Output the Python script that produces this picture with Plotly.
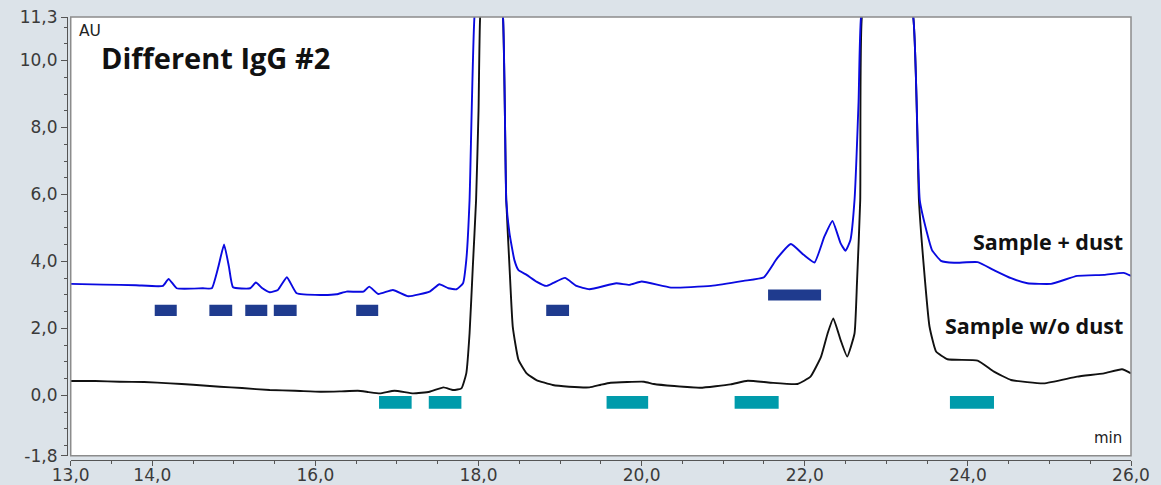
import plotly.graph_objects as go

# ---- data ----
t_nodust = [13.00, 13.30, 13.60, 13.90, 14.22, 14.50, 14.83, 15.10, 15.44, 15.75, 16.06, 16.30,
            16.52, 16.65, 16.79, 16.97, 17.20, 17.40, 17.57, 17.69, 17.79, 17.85, 17.89, 17.93,
            17.97, 18.00, 18.02, 18.16, 18.30, 18.34, 18.38, 18.42, 18.49, 18.59, 18.71, 18.91,
            19.11, 19.36, 19.50, 19.62, 20.03, 20.15, 20.40, 20.72, 21.09, 21.30, 21.58, 21.91,
            22.07, 22.20, 22.28, 22.35, 22.44, 22.52, 22.61, 22.64, 22.68, 22.70, 22.98, 23.33,
            23.40, 23.46, 23.53, 23.61, 23.75, 24.12, 24.32, 24.53, 24.93, 25.34, 25.67, 25.89,
            26.00]
au_nodust = [0.43, 0.43, 0.41, 0.40, 0.36, 0.32, 0.26, 0.22, 0.16, 0.14, 0.11, 0.12,
             0.14, 0.10, 0.06, 0.14, 0.06, 0.11, 0.24, 0.16, 0.21, 0.66, 1.85, 3.84,
             5.83, 8.50, 11.30, 15.00, 11.30, 5.83, 3.84, 2.05, 1.06, 0.66, 0.46, 0.31,
             0.26, 0.24, 0.32, 0.38, 0.41, 0.34, 0.28, 0.23, 0.33, 0.44, 0.38, 0.34,
             0.56, 1.16, 1.85, 2.30, 1.65, 1.16, 1.85, 3.35, 5.83, 11.30, 15.00, 11.30,
             5.83, 3.84, 2.05, 1.31, 1.08, 1.04, 0.71, 0.46, 0.36, 0.56, 0.66, 0.78,
             0.66]

t_dust = [13.00, 13.40, 13.80, 14.13, 14.20, 14.30, 14.62, 14.73, 14.81, 14.88, 14.94, 14.99,
          15.20, 15.27, 15.35, 15.44, 15.54, 15.65, 15.77, 16.06, 16.26, 16.38, 16.59, 16.66,
          16.77, 16.95, 17.14, 17.40, 17.52, 17.63, 17.73, 17.81, 17.85, 17.89, 17.95, 18.12,
          18.30, 18.34, 18.38, 18.44, 18.49, 18.59, 18.71, 18.83, 18.91, 19.06, 19.20, 19.36,
          19.69, 19.85, 20.00, 20.36, 20.85, 21.25, 21.50, 21.66, 21.83, 21.99, 22.12, 22.24,
          22.34, 22.44, 22.50, 22.56, 22.61, 22.66, 22.69, 22.98, 23.33, 23.41, 23.50, 23.56,
          23.67, 23.83, 24.12, 24.32, 24.53, 24.73, 25.02, 25.34, 25.67, 25.91, 26.00]
au_dust = [3.33, 3.31, 3.29, 3.27, 3.48, 3.20, 3.20, 3.20, 3.84, 4.51, 3.84, 3.23,
           3.20, 3.37, 3.20, 3.08, 3.15, 3.53, 3.05, 3.00, 3.02, 3.10, 3.10, 3.25,
           3.03, 3.15, 2.96, 3.10, 3.32, 3.20, 3.17, 3.35, 4.04, 5.83, 11.30, 15.00,
           11.30, 5.83, 4.84, 4.04, 3.74, 3.60, 3.40, 3.27, 3.35, 3.51, 3.27, 3.17,
           3.35, 3.30, 3.40, 3.22, 3.27, 3.42, 3.53, 4.09, 4.52, 4.19, 3.97, 4.74,
           5.21, 4.54, 4.32, 4.64, 5.83, 8.80, 11.30, 15.00, 11.30, 5.83, 4.84, 4.34,
           4.02, 3.96, 3.98, 3.74, 3.50, 3.35, 3.33, 3.57, 3.60, 3.66, 3.57]

# fraction bars (start, end, level)
dust_bar_start = [14.03, 14.70, 15.14, 15.49, 16.50, 18.83, 21.55]
dust_bar_end = [14.30, 14.98, 15.41, 15.77, 16.77, 19.11, 22.20]
dust_bar_level = [2.54, 2.54, 2.54, 2.54, 2.54, 2.54, 3.00]

nodust_bar_start = [16.78, 17.39, 19.57, 21.14, 23.78]
nodust_bar_end = [17.18, 17.79, 20.08, 21.68, 24.32]
nodust_bar_level = [-0.21, -0.21, -0.21, -0.21, -0.21]

x_tickvals = [13, 14, 16, 18, 20, 22, 24, 26]
x_ticktext = ["13,0", "14,0", "16,0", "18,0", "20,0", "22,0", "24,0", "26,0"]
y_tickvals = [-1.8, 0, 2, 4, 6, 8, 10, 11.3]
y_ticktext = ["-1,8", "0,0", "2,0", "4,0", "6,0", "8,0", "10,0", "11,3"]

title_text = "Different IgG #2"
label_dust = "Sample + dust"
label_nodust = "Sample w/o dust"

# ---- figure ----
fig = go.Figure()
fig.add_trace(go.Scatter(x=t_nodust, y=au_nodust, mode="lines",
                         line=dict(color="#111111", width=1.9, shape="spline", smoothing=0.4),
                         name=label_nodust, showlegend=False))
fig.add_trace(go.Scatter(x=t_dust, y=au_dust, mode="lines",
                         line=dict(color="#0a0ae0", width=1.9, shape="spline", smoothing=0.4),
                         name=label_dust, showlegend=False))

shapes = []
for x0, x1, lv in zip(dust_bar_start, dust_bar_end, dust_bar_level):
    shapes.append(dict(type="rect", xref="x", yref="y", x0=x0, x1=x1, y0=lv - 0.165, y1=lv + 0.165,
                       fillcolor="#1f3b8e", line=dict(width=0), layer="above"))
for x0, x1, lv in zip(nodust_bar_start, nodust_bar_end, nodust_bar_level):
    shapes.append(dict(type="rect", xref="x", yref="y", x0=x0, x1=x1, y0=lv - 0.19, y1=lv + 0.19,
                       fillcolor="#009bab", line=dict(width=0), layer="above"))
# plot frame
shapes.append(dict(type="rect", xref="x domain", yref="y domain", x0=0, x1=1, y0=0, y1=1,
                   line=dict(color="#8c8c8c", width=1.5), layer="above"))

annotations = [
    dict(text="AU", xref="x domain", yref="y domain", x=0.0062, y=0.967, xanchor="left",
         yanchor="middle", showarrow=False, font=dict(family="DejaVu Sans", size=15.5, color="#222")),
    dict(text="<b>" + title_text + "</b>", xref="x domain", yref="y domain", x=0.027, y=0.907,
         xanchor="left", yanchor="middle", showarrow=False,
         font=dict(family="Open Sans", size=29, color="#111")),
    dict(text="<b>" + label_dust + "</b>", xref="x domain", yref="y domain", x=0.9940, y=0.489,
         xanchor="right", yanchor="middle", showarrow=False,
         font=dict(family="Open Sans", size=21.5, color="#111")),
    dict(text="<b>" + label_nodust + "</b>", xref="x domain", yref="y domain", x=0.9940, y=0.2957,
         xanchor="right", yanchor="middle", showarrow=False,
         font=dict(family="Open Sans", size=21.5, color="#111")),
    dict(text="min", xref="x domain", yref="y domain", x=0.9937, y=0.040,
         xanchor="right", yanchor="middle", showarrow=False,
         font=dict(family="DejaVu Sans", size=15, color="#222")),
]

tickfont = dict(family="DejaVu Sans", size=17, color="#3a3a3a")
fig.update_layout(
    width=1161, height=485,
    margin=dict(l=67, r=30, t=17, b=25, pad=0),
    paper_bgcolor="#dce3e9", plot_bgcolor="#ffffff",
    shapes=shapes, annotations=annotations,
    xaxis=dict(range=[13, 26], domain=[0.0035, 1], anchor="free", position=0, automargin=False,
               tickvals=x_tickvals, ticktext=x_ticktext, ticks="outside", ticklen=5,
               ticklabelstandoff=-6,
               tickcolor="#555", tickwidth=1, showline=True, linecolor="#555", linewidth=1.2,
               showgrid=False, zeroline=False, tickfont=tickfont,
               minor=dict(dtick=0.5, tick0=13, ticks="outside", ticklen=3, tickcolor="#555",
                          showgrid=False)),
    yaxis=dict(range=[-1.8, 11.3], domain=[0.0097, 1], anchor="free", position=0, automargin=False,
               tickvals=y_tickvals, ticktext=y_ticktext, ticks="outside", ticklen=6,
               tickcolor="#555", tickwidth=1, showline=True, linecolor="#555", linewidth=1.2,
               showgrid=False, zeroline=False, tickfont=tickfont,
               minor=dict(dtick=0.5, tick0=0, ticks="outside", ticklen=3, tickcolor="#555",
                          showgrid=False)),
)

fig.write_html("out.html")
